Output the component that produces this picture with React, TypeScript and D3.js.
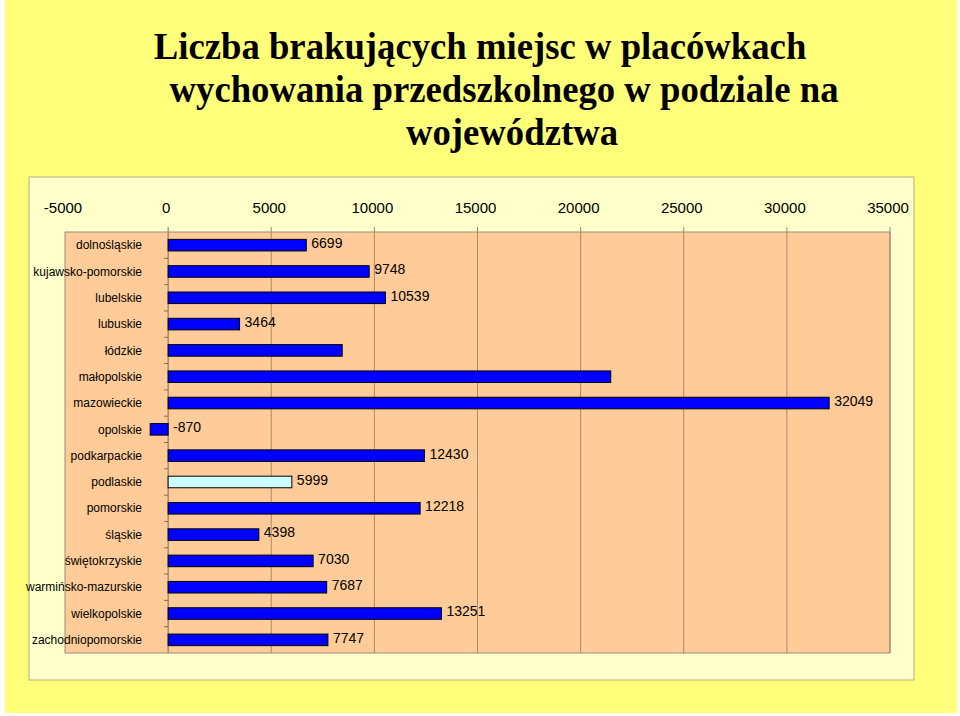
import React, { useEffect, useRef } from 'react';
import * as d3 from 'd3';

const regions = [
  'dolnośląskie',
  'kujawsko-pomorskie',
  'lubelskie',
  'lubuskie',
  'łódzkie',
  'małopolskie',
  'mazowieckie',
  'opolskie',
  'podkarpackie',
  'podlaskie',
  'pomorskie',
  'śląskie',
  'świętokrzyskie',
  'warmińsko-mazurskie',
  'wielkopolskie',
  'zachodniopomorskie',
];
const missingPlaces = [6699, 9748, 10539, 3464, 8440, 21460, 32049, -870, 12430, 5999, 12218, 4398, 7030, 7687, 13251, 7747];
// which bars carry a value label
const showLabel = [true, true, true, true, false, false, true, true, true, true, true, true, true, true, true, true];
const highlighted = ['podlaskie'];
const xTicks = [-5000, 0, 5000, 10000, 15000, 20000, 25000, 30000, 35000];
const titleLines = [
  'Liczba brakujących miejsc w placówkach',
  'wychowania przedszkolnego w podziale na',
  'województwa',
];

const W = 960;
const H = 716;

const App: React.FC = () => {
  const svgRef = useRef<SVGSVGElement>(null);

  useEffect(() => {
    if (!svgRef.current) return;
    const svg = d3.select(svgRef.current);
    svg.selectAll('*').remove();

    // slide background
    svg.append('rect').attr('width', W).attr('height', H).attr('fill', '#ffffff');
    svg.append('rect').attr('x', 5).attr('y', 0).attr('width', 952).attr('height', 713).attr('fill', '#ffff7a');

    // title
    const titleX = [480, 504, 512];
    const titleY = [59, 102, 145];
    titleLines.forEach((t, i) => {
      svg.append('text')
        .attr('transform', `translate(${titleX[i]},${titleY[i]}) scale(1.02,1.06)`)
        .attr('text-anchor', 'middle')
        .attr('font-family', '"Liberation Serif", "Times New Roman", serif')
        .attr('font-weight', 'bold')
        .attr('font-size', 36)
        .attr('fill', '#000')
        .text(t);
    });

    // chart area box
    svg.append('rect')
      .attr('x', 29).attr('y', 177).attr('width', 885).attr('height', 503)
      .attr('fill', '#ffffcc').attr('stroke', '#b8ad80').attr('stroke-width', 1);

    const margin = { top: 232, left: 65, right: 70, bottom: 63 };
    const plotW = W - margin.left - margin.right;
    const plotH = H - margin.top - margin.bottom;

    const x = d3.scaleLinear().domain([-5000, 35000]).range([0, plotW]);
    const y = d3.scaleBand<string>().domain(regions).range([0, plotH]).paddingInner(0.56).paddingOuter(0.28);
    const step = y.step();

    const g = svg.append('g').attr('transform', `translate(${margin.left},${margin.top})`);

    g.append('rect').attr('width', plotW).attr('height', plotH).attr('fill', '#ffcc99');

    // vertical gridlines (extend above plot as ticks)
    g.append('g')
      .selectAll('line')
      .data(xTicks.filter(t => t !== -5000))
      .join('line')
      .attr('x1', d => x(d)).attr('x2', d => x(d))
      .attr('y1', -5).attr('y2', plotH)
      .attr('stroke', d => (d === 0 ? '#7a6a5a' : '#a68a6a'))
      .attr('stroke-width', 1);

    // plot border
    g.append('path')
      .attr('d', `M0,0H${plotW}V${plotH}H0Z`)
      .attr('fill', 'none').attr('stroke', '#9a8a7a').attr('stroke-width', 1);

    // top axis labels
    g.append('g')
      .selectAll('text')
      .data(xTicks)
      .join('text')
      .attr('x', d => x(d) - 2)
      .attr('y', -19)
      .attr('text-anchor', 'middle')
      .attr('font-family', '"Liberation Sans", Arial, sans-serif')
      .attr('font-size', 15)
      .attr('fill', '#000')
      .text(d => String(d));

    // category ticks on the zero line
    g.append('g')
      .selectAll('line')
      .data(d3.range(1, regions.length))
      .join('line')
      .attr('x1', x(0) - 4).attr('x2', x(0))
      .attr('y1', i => i * step).attr('y2', i => i * step)
      .attr('stroke', '#7a6a5a');

    // bars
    g.append('g')
      .selectAll('rect')
      .data(regions)
      .join('rect')
      .attr('x', (d, i) => x(Math.min(0, missingPlaces[i])))
      .attr('y', d => y(d) as number)
      .attr('width', (d, i) => Math.abs(x(missingPlaces[i]) - x(0)))
      .attr('height', y.bandwidth())
      .attr('fill', d => (highlighted.includes(d) ? '#ccffff' : '#0000ff'))
      .attr('stroke', '#000')
      .attr('stroke-width', 1);

    // category labels
    g.append('g')
      .selectAll('text')
      .data(regions)
      .join('text')
      .attr('x', 77)
      .attr('y', d => (y(d) as number) + y.bandwidth() / 2)
      .attr('dy', '0.35em')
      .attr('text-anchor', 'end')
      .attr('font-family', '"Liberation Sans", Arial, sans-serif')
      .attr('font-size', 12)
      .attr('fill', '#000')
      .text(d => d);

    // value labels
    g.append('g')
      .selectAll('text')
      .data(regions.filter((d, i) => showLabel[i]))
      .join('text')
      .attr('x', d => {
        const v = missingPlaces[regions.indexOf(d)];
        return x(Math.max(0, v)) + 5;
      })
      .attr('y', d => (y(d) as number) + y.bandwidth() / 2 - 2)
      .attr('dy', '0.35em')
      .attr('font-family', '"Liberation Sans", Arial, sans-serif')
      .attr('font-size', 14)
      .attr('fill', '#000')
      .text(d => String(missingPlaces[regions.indexOf(d)]));
  }, []);

  return (
    <svg
      ref={svgRef}
      width={W}
      height={H}
      style={{ position: 'absolute', left: 0, top: 0, display: 'block' }}
    />
  );
};

export default App;
